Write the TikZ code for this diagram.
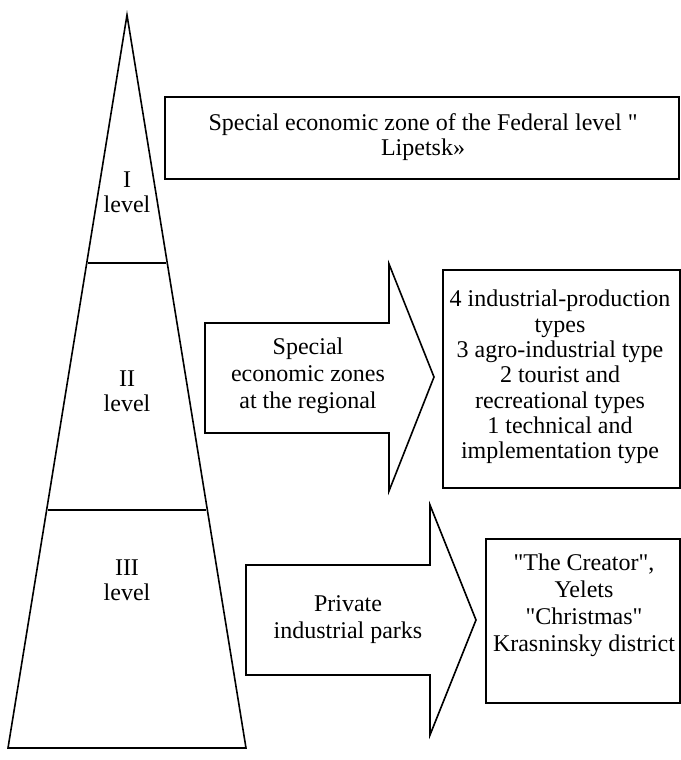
\documentclass[tikz,border=0pt]{standalone}
\usepackage{fontspec}
\setmainfont{Liberation Serif}[Ligatures=TeXOff]
\begin{document}
\begin{tikzpicture}[x=0.75pt,y=-0.75pt,
  thick line/.style={line width=1.2pt,line join=miter},
  boxline/.style={line width=0.8pt},
  txt/.style={align=center,inner sep=0pt,font=\fontsize{18}{19}\selectfont},
  txtb/.style={align=center,inner sep=0pt,font=\fontsize{18}{20.2}\selectfont}]
\useasboundingbox (0,0) rectangle (681,760);
% pyramid
\coordinate (apex) at (127,15);
\coordinate (bl) at (8,748);
\coordinate (br) at (246,748);
\draw[thick line] (bl) -- (apex) -- (br) -- cycle;
\draw[boxline] (88,263) coordinate (d1l) -- (166,263) coordinate (d1r);
\draw[boxline] (48,510) coordinate (d2l) -- (206,510) coordinate (d2r);
\node[txt] (l1) at (127,192) {I\\level};
\node[txt] (l2) at (127,391) {II\\level};
\node[txt] (l3) at (127,580) {III\\level};
% box 1
\draw[boxline] (165,97) rectangle (679,179);
\node[txt] (t1) at (423,137) {Special economic zone of the Federal level "\\Lipetsk»};
% arrow 2
\draw[thick line] (205,323) -- (389,323) -- (389,264) -- (434,377) -- (389,491) -- (389,433) -- (205,433) -- cycle;
\node[txtb] (a2) at (308,376) {Special\\economic zones\\at the regional};
% box 2
\draw[boxline] (443,270) rectangle (680,488);
\node[txt] (t2) at (560,377) {4 industrial-production\\types\\3 agro-industrial type\\2 tourist and\\recreational types\\1 technical and\\implementation type};
% arrow 3
\draw[thick line] (246,565) -- (430,565) -- (430,505) -- (476,620) -- (430,735) -- (430,675) -- (246,675) -- cycle;
\node[txtb] (a3) at (348,620) {Private\\industrial parks};
% box 3
\draw[boxline] (486,539) rectangle (680,703);
\node[txtb] (t3) at (584,605) {"The Creator",\\Yelets\\"Christmas"\\Krasninsky district};
\end{tikzpicture}
\end{document}
